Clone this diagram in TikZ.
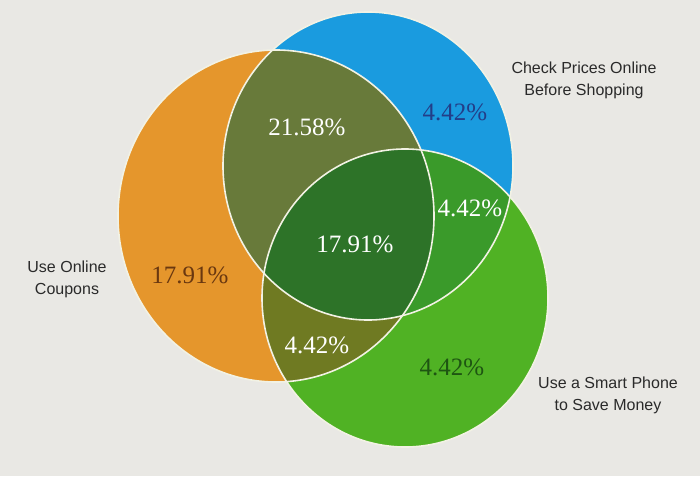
\documentclass[tikz,border=0pt]{standalone}
\usepackage{fontspec}
\setmainfont{Liberation Serif}
\newfontfamily\labelfont{Liberation Sans}
\definecolor{bgc}{HTML}{E9E8E4}
\definecolor{orangec}{HTML}{E5962C}
\definecolor{bluec}{HTML}{1A9BDF}
\definecolor{greenc}{HTML}{50B224}
\definecolor{obc}{HTML}{687A3A}
\definecolor{ogc}{HTML}{6F7A22}
\definecolor{bgcc}{HTML}{3A9A2A}
\definecolor{centc}{HTML}{2D7328}
\definecolor{linec}{HTML}{F2F2E4}
\definecolor{navyt}{HTML}{233E88}
\definecolor{brownt}{HTML}{6A3810}
\definecolor{dgreent}{HTML}{1E5512}
\definecolor{labelc}{HTML}{2A2A2A}
\tikzset{
  pct/.style={font=\fontsize{25}{28}\selectfont, inner sep=0pt},
  setlabel/.style={font=\labelfont\fontsize{16}{22}\selectfont, text=labelc, align=center, inner sep=0pt},
  border/.style={draw=linec, line width=1.6pt}
}
\begin{document}
\begin{tikzpicture}[x=1pt,y=-1pt]
\fill[bgc] (0,0) rectangle (700,476);
\useasboundingbox (0,0) rectangle (700,476);
% base sets
\fill[orangec] (276,216) ellipse [x radius=158, y radius=166];
\fill[bluec] (368,166) ellipse [x radius=145, y radius=154];
\fill[greenc] (405,298) ellipse [x radius=143, y radius=149];
% pairwise overlaps
\begin{scope}
  \clip (276,216) ellipse [x radius=158, y radius=166];
  \fill[obc] (368,166) ellipse [x radius=145, y radius=154];
  \fill[ogc] (405,298) ellipse [x radius=143, y radius=149];
\end{scope}
\begin{scope}
  \clip (368,166) ellipse [x radius=145, y radius=154];
  \fill[bgcc] (405,298) ellipse [x radius=143, y radius=149];
\end{scope}
% triple overlap
\begin{scope}
  \clip (276,216) ellipse [x radius=158, y radius=166];
  \clip (368,166) ellipse [x radius=145, y radius=154];
  \fill[centc] (405,298) ellipse [x radius=143, y radius=149];
\end{scope}
% borders
\draw[border] (276,216) ellipse [x radius=158, y radius=166];
\draw[border] (368,166) ellipse [x radius=145, y radius=154];
\draw[border] (405,298) ellipse [x radius=143, y radius=149];
% percentages
\node[pct, text=white] (ob) at (307,127) {21.58\%};
\node[pct, text=navyt] (bo) at (455,112) {4.42\%};
\node[pct, text=white] (bg) at (470,208) {4.42\%};
\node[pct, text=white] (ct) at (355,244) {17.91\%};
\node[pct, text=brownt] (oo) at (190,275) {17.91\%};
\node[pct, text=white] (og) at (317,345) {4.42\%};
\node[pct, text=dgreent] (go) at (452,367) {4.42\%};
% set labels
\node[setlabel] (lblue) at (584,80) {Check Prices Online\\Before Shopping};
\node[setlabel] (lorange) at (67,279) {Use Online\\Coupons};
\node[setlabel] (lgreen) at (608,395) {Use a Smart Phone\\to Save Money};
\end{tikzpicture}
\end{document}
